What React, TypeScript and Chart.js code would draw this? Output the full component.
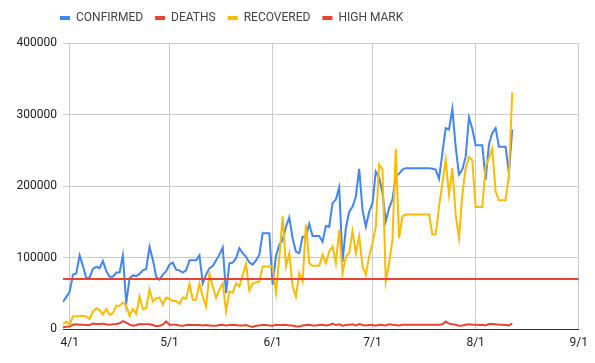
import React, { useEffect, useRef } from 'react';
import { Chart, registerables } from 'chart.js';

Chart.register(...registerables);

// Day index 0 = 3/30; one value per day up to day 135 (8/12)
const CONFIRMED = [
  38000, 45000, 52000, 76000, 78000, 103000, 88000, 71000, 72000, 84000,
  87000, 85000, 95000, 81000, 73000, 73000, 79000, 79000, 103000, 36000,
  71000, 75000, 74000, 77000, 82000, 84000, 115000, 97000, 73000, 69000,
  76000, 81000, 90000, 93000, 83000, 82000, 79000, 82000, 96000, 96000,
  96000, 103000, 64000, 76000, 85000, 88000, 96000, 104000, 114000, 50000,
  92000, 93000, 99000, 113000, 106000, 101000, 93000, 90000, 96000, 104000,
  134000, 134000, 134000, 62000, 102000, 118000, 124000, 143000, 156000, 127000,
  108000, 106000, 129000, 129000, 147000, 130000, 130000, 130000, 122000, 144000,
  143000, 176000, 181000, 198000, 94000, 141000, 164000, 171000, 185000, 224000,
  167000, 143000, 164000, 176000, 220000, 212000, 190000, 151000, 169000, 181000,
  214000, 217000, 223000, 225000, 225000, 225000, 225000, 225000, 225000, 225000,
  225000, 224000, 223000, 210000, 246000, 281000, 279000, 308000, 255000, 216000,
  223000, 241000, 296000, 280000, 257000, 257000, 257000, 209000, 258000, 274000,
  281000, 255000, 255000, 255000, 218000, 279000,
];

const DEATHS = [
  2500, 3000, 3500, 6000, 6500, 6000, 6000, 5500, 5500, 7500,
  7000, 7000, 7500, 6500, 6000, 6500, 7000, 8000, 11000, 9000,
  6000, 4500, 5500, 7000, 6500, 6500, 6500, 5500, 4000, 4500,
  6000, 10500, 6000, 6000, 6000, 5000, 4500, 5500, 6000, 5500,
  5500, 5500, 5000, 5500, 5000, 4500, 4500, 5500, 6000, 5000,
  5500, 6000, 5500, 5000, 5000, 5500, 4000, 3000, 4500, 5000,
  5500, 5500, 5000, 4500, 6000, 5500, 5500, 6000, 5000, 5000,
  4000, 3500, 5000, 5500, 6000, 5000, 5000, 5500, 6000, 5000,
  5500, 7500, 5500, 6500, 4500, 5500, 6000, 6500, 5000, 7000,
  5500, 5000, 5500, 5500, 4500, 6000, 5500, 5000, 6500, 6000,
  5500, 5000, 6000, 6000, 6000, 6000, 6000, 6000, 6000, 6000,
  6000, 6000, 6000, 6000, 6500, 10500, 7500, 6500, 6000, 4500,
  5000, 6000, 6500, 6000, 6000, 5500, 6000, 5000, 7000, 7000,
  6500, 6000, 6000, 5500, 5000, 7500,
];

const RECOVERED = [
  7000, 10000, 6000, 17500, 18000, 18000, 18500, 17500, 14000, 24500,
  29000, 26500, 20000, 28000, 20000, 22000, 32500, 32500, 37000, 33000,
  18500, 28000, 21000, 45500, 27500, 29000, 55000, 38500, 43000, 44000,
  34000, 44000, 42000, 39000, 39000, 35000, 44000, 42000, 63000, 41000,
  41000, 64000, 45500, 31500, 77000, 59500, 43500, 55000, 64000, 25000,
  52500, 51000, 64000, 59500, 76000, 91000, 54000, 63500, 65000, 66500,
  87500, 87500, 87500, 87500, 51000, 100000, 157500, 87500, 106000, 59500,
  45500, 78000, 66500, 146000, 92000, 88500, 88500, 88500, 104000, 92000,
  108500, 115500, 92000, 139000, 78000, 101500, 106000, 136500, 106000, 129500,
  87500, 76000, 101500, 120000, 143500, 230000, 223000, 66500, 92000, 125000,
  252000, 127000, 157500, 160000, 160000, 160000, 160000, 160000, 160000, 160000,
  160000, 132000, 132000, 171500, 204000, 237000, 188000, 225000, 160000, 127000,
  188000, 225000, 240500, 236000, 170500, 170500, 170500, 227500, 239000, 252000,
  192500, 180000, 180000, 180000, 216000, 331000,
];

const HIGH_MARK_DAYS = [0, 155];
const HIGH_MARK = [70000, 70000];

const AXIS_MAX_DAY = 155;
const TICK_DAYS = [2, 32, 63, 93, 124, 155];
const TICK_LABELS = ['4/1', '5/1', '6/1', '7/1', '8/1', '9/1'];

const FONT = 'Roboto, Arial, sans-serif';

const toPoints = (arr: number[]) => arr.map((v, i) => ({ x: i, y: v }));

const legendPlacement = {
  id: 'legendPlacement',
  beforeInit(chart: any) {
    const legend = chart.legend;
    if (!legend) return;
    const origFit = legend.fit;
    legend.fit = function () {
      origFit.call(this);
      this.height = 43;
    };
  },
  afterLayout(chart: any) {
    if (chart.legend) chart.legend.left = 48;
  },
};

export default function App() {
  const ref = useRef<HTMLCanvasElement>(null);

  useEffect(() => {
    const chart = new Chart(ref.current as HTMLCanvasElement, {
      type: 'line',
      data: {
        datasets: [
          {
            label: 'CONFIRMED',
            data: toPoints(CONFIRMED),
            borderColor: '#4285F4',
            backgroundColor: '#4285F4',
            borderWidth: 2,
            pointRadius: 0,
            tension: 0,
            order: 4,
          },
          {
            label: 'DEATHS',
            data: toPoints(DEATHS),
            borderColor: '#EA4335',
            backgroundColor: '#EA4335',
            borderWidth: 2,
            pointRadius: 0,
            tension: 0,
            order: 3,
          },
          {
            label: 'RECOVERED',
            data: toPoints(RECOVERED),
            borderColor: '#FBBC04',
            backgroundColor: '#FBBC04',
            borderWidth: 2,
            pointRadius: 0,
            tension: 0,
            order: 2,
          },
          {
            label: 'HIGH MARK',
            data: HIGH_MARK.map((v, i) => ({ x: HIGH_MARK_DAYS[i], y: v })),
            borderColor: '#EA4335',
            backgroundColor: '#EA4335',
            borderWidth: 2,
            pointRadius: 0,
            tension: 0,
            order: 1,
          },
        ],
      },
      options: {
        animation: false,
        responsive: true,
        maintainAspectRatio: false,
        layout: { padding: { left: 0, right: 15, top: 0, bottom: 0 } },
        plugins: {
          tooltip: { enabled: false },
          legend: {
            position: 'top',
            align: 'start',
            labels: {
              boxWidth: 10,
              boxHeight: 4,
              padding: 12,
              color: '#444',
              font: { family: FONT, size: 12 },
              sort: (a: any, b: any) => a.datasetIndex - b.datasetIndex,
              generateLabels: (c: any) =>
                (Chart as any).defaults.plugins.legend.labels
                  .generateLabels(c)
                  .map((it: any) => ({ ...it, lineWidth: 0 })),
            },
          },
        },
        scales: {
          x: {
            type: 'linear',
            min: 0,
            max: AXIS_MAX_DAY,
            afterBuildTicks: (scale: any) => {
              scale.ticks = TICK_DAYS.map((v) => ({ value: v }));
            },
            afterFit: (scale: any) => {
              scale.height = 34;
            },
            ticks: {
              autoSkip: false,
              maxRotation: 0,
              padding: 7,
              color: '#222',
              font: { family: FONT, size: 12 },
              callback: (v: any) => {
                const i = TICK_DAYS.indexOf(Number(v));
                return i >= 0 ? TICK_LABELS[i] : '';
              },
            },
            grid: { color: '#cccccc', lineWidth: 1, drawTicks: false },
            border: { display: true, color: '#333333', width: 1 },
          },
          y: {
            type: 'linear',
            min: 0,
            max: 400000,
            afterFit: (scale: any) => {
              scale.width = 63;
            },
            ticks: {
              stepSize: 100000,
              padding: 6,
              color: '#222',
              font: { family: FONT, size: 12 },
              callback: (v: any) => String(v),
            },
            grid: { color: '#cccccc', lineWidth: 1, drawTicks: false },
            border: { display: false },
          },
        },
      },
      plugins: [legendPlacement],
    } as any);
    return () => chart.destroy();
  }, []);

  return (
    <div style={{ position: 'absolute', left: 0, top: 0, width: 595, height: 363, background: '#fff' }}>
      <canvas ref={ref} />
    </div>
  );
}
